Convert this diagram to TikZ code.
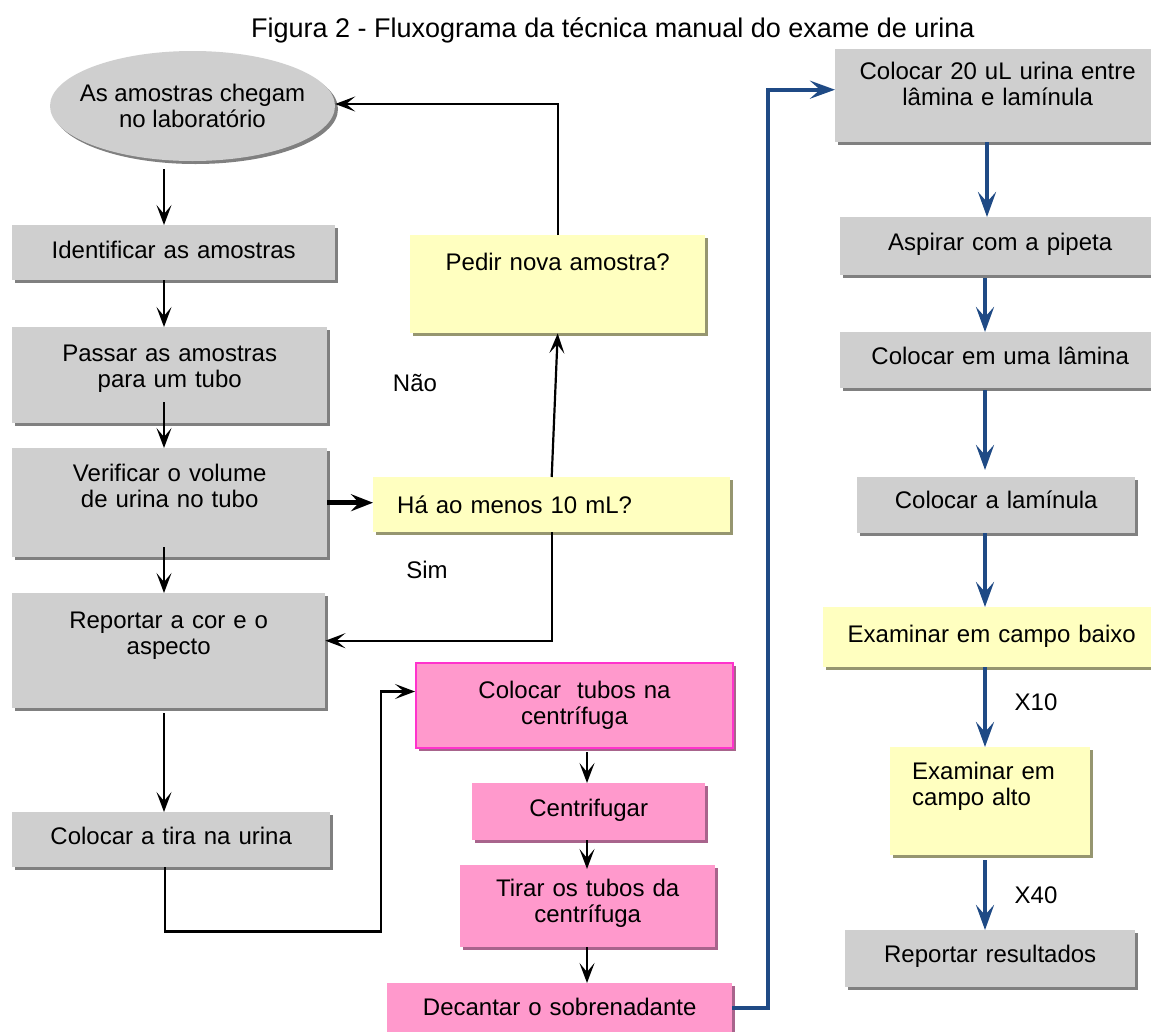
\documentclass[tikz,border=0pt]{standalone}
\usepackage{fontspec}
\setmainfont{Liberation Sans}
\usepackage{xcolor}
\usepackage{tikz}
\usetikzlibrary{shapes.geometric}
\usetikzlibrary{shadows}
\usetikzlibrary{arrows.meta}
\definecolor{boxgray}{RGB}{207,207,207}
\definecolor{shgray}{RGB}{128,128,128}
\definecolor{boxyel}{RGB}{255,255,192}
\definecolor{shyel}{RGB}{150,150,112}
\definecolor{boxpink}{RGB}{255,153,204}
\definecolor{edgepink}{RGB}{255,51,204}
\definecolor{shpink}{RGB}{168,100,140}
\definecolor{flowblue}{RGB}{31,74,133}
\tikzset{
    gbox/.style = {rectangle, anchor=north west, fill=boxgray, inner sep=0pt, align=center,
        drop shadow={shadow xshift=3pt, shadow yshift=-3pt, fill=shgray, opacity=1}},
    ybox/.style = {rectangle, anchor=north west, fill=boxyel, inner sep=0pt, align=center,
        drop shadow={shadow xshift=3pt, shadow yshift=-3pt, fill=shyel, opacity=1}},
    pbox/.style = {rectangle, anchor=north west, fill=boxpink, inner sep=0pt, align=center,
        drop shadow={shadow xshift=3pt, shadow yshift=-3pt, fill=shpink, opacity=1}},
    startnode/.style = {ellipse, fill=boxgray, inner xsep=-13pt, inner ysep=0pt, align=center,
        minimum width=285pt, minimum height=110pt,
        drop shadow={shadow xshift=3pt, shadow yshift=-3pt, fill=shgray, opacity=1}},
}
\begin{document}
\begin{tikzpicture}[
	x=1pt, y=-1pt,
	font=\fontsize{24}{26.5}\selectfont
]
\tikzset{
    arr/.style = {-{Stealth[length=20pt, width=15pt, inset=9pt]}, line width=2.2pt},
    arrthick/.style = {-{Stealth[length=22pt, width=17pt, inset=8pt]}, line width=5pt},
    arrblue/.style = {-{Stealth[length=25pt, width=18pt, inset=10pt]}, line width=4pt, flowblue},
    lbl/.style = {anchor=base, inner sep=0pt},
}
\fill[white] (0,0) rectangle (1151,1031);
\useasboundingbox (0,0) rectangle (1151,1031);
\node[anchor=base west, inner sep=0pt, font=\fontsize{27}{30}\selectfont] at (251,37) (title) {Figura 2 - Fluxograma da técnica manual do exame de urina};
% coluna da esquerda
\node[startnode] at (192.5,106) (ell) {As amostras chegam\\no laboratório};
\node[gbox, text width=323pt, text height=33pt, text depth=22pt] at (12,225) (idn) {Identificar as amostras};
\node[gbox, text width=315pt, text height=34pt, text depth=62pt] at (12,327) (pas) {Passar as amostras\\para um tubo};
\node[gbox, text width=315pt, text height=33pt, text depth=76pt] at (12,448) (ver) {Verificar o volume\\de urina no tubo};
\node[gbox, text width=313pt, text height=35pt, text depth=80pt] at (12,593) (rep) {Reportar a cor e o\\aspecto};
\node[gbox, text width=318pt, text height=32pt, text depth=23pt] at (12,812) (tira) {Colocar a tira na urina};
% perguntas
\node[ybox, text width=295pt, text height=35pt, text depth=63pt] at (410,235) (ped) {Pedir nova amostra?};
\node[ybox, align=left, inner xsep=24pt, text width=309pt, text height=36pt, text depth=19pt] at (373,477) (ha) {Há ao menos 10 mL?};
% centrifugacao
\node[pbox, draw=edgepink, line width=2pt, text width=317pt, text height=35pt, text depth=50pt] at (415,662) (cen1) {Colocar\ \ tubos na\\centrífuga};
\node[pbox, text width=233pt, text height=33pt, text depth=24pt] at (472,783) (cen2) {Centrifugar};
\node[pbox, text width=255pt, text height=31pt, text depth=51pt] at (460,865) (cen3) {Tirar os tubos da\\centrífuga};
\node[pbox, text width=345pt, text height=32pt, text depth=21pt] at (387,983) (cen4) {Decantar o sobrenadante};
% coluna da direita
\node[gbox, text width=325pt, text height=30pt, text depth=63pt] at (835,49) (r1) {Colocar 20 uL urina entre\\lâmina e lamínula};
\node[gbox, text width=320pt, text height=33pt, text depth=25pt] at (840,217) (r2) {Aspirar com a pipeta};
\node[gbox, text width=320pt, text height=32pt, text depth=24pt] at (840,332) (r3) {Colocar em uma lâmina};
\node[gbox, text width=278pt, text height=31pt, text depth=25pt] at (857,477) (r4) {Colocar a lamínula};
\node[ybox, text width=337pt, text height=35pt, text depth=25pt] at (823,607) (r5) {Examinar em campo baixo};
\node[ybox, align=left, inner xsep=22pt, text width=156pt, text height=32pt, text depth=76pt] at (890,747) (r6) {Examinar em\\campo alto};
\node[gbox, text width=290pt, text height=32pt, text depth=25pt] at (845,930) (r7) {Reportar resultados};
% rotulos
\node[lbl] at (415,391) (nao) {Não};
\node[lbl] at (427,578) (sim) {Sim};
\node[lbl] at (1036,710) (x10) {X10};
\node[lbl] at (1036,903) (x40) {X40};
% colunas das setas
\coordinate (lx) at (164,0);
\coordinate (px) at (587,0);
\coordinate (bx) at (985,0);
% setas pretas
\draw[arr] ([yshift=-8pt]ell.south -| lx) -- (idn.north -| lx);
\draw[arr] (idn.south -| lx) -- (pas.north -| lx);
\draw[arr] ([yshift=21pt]pas.south -| lx) -- (ver.north -| lx);
\draw[arr] ([yshift=10pt]ver.south -| lx) -- (rep.north -| lx);
\draw[arr] ([yshift=-5pt]rep.south -| lx) -- (tira.north -| lx);
\draw[arr] ([xshift=-6pt]tira.south) -- ++(0,64) -| ([xshift=-34pt,yshift=14pt]cen1.west) -- ([yshift=14pt]cen1.west);
\draw[arrthick] (ver.east) -- (ver.east -| ha.west);
\draw[arr] (ha.north) -- (ped.south);
\draw[arr] (ped.north) |- ([yshift=2pt]ell.east);
\draw[arr] (ha.south) |- ([yshift=10pt]rep.east);
\draw[arr] ([yshift=-3pt]cen1.south -| px) -- (cen2.north -| px);
\draw[arr] (cen2.south -| px) -- ([yshift=-4pt]cen3.north -| px);
\draw[arr] (cen3.south -| px) -- (cen4.north -| px);
% setas azuis
\draw[arrblue] ([yshift=2pt]cen4.east) -- ++(36,0) |- ([yshift=6pt]r1.west);
\draw[arrblue] ([xshift=2pt]r1.south -| bx) -- ([xshift=2pt]r2.north -| bx);
\draw[arrblue] ([yshift=-3pt]r2.south -| bx) -- (r3.north -| bx);
\draw[arrblue] ([yshift=-2pt]r3.south -| bx) -- ([yshift=7pt]r4.north -| bx);
\draw[arrblue] (r4.south -| bx) -- (r5.north -| bx);
\draw[arrblue] (r5.south -| bx) -- (r6.north -| bx);
\draw[arrblue] ([yshift=-5pt]r6.south -| bx) -- (r7.north -| bx);

\end{tikzpicture}
\end{document}
